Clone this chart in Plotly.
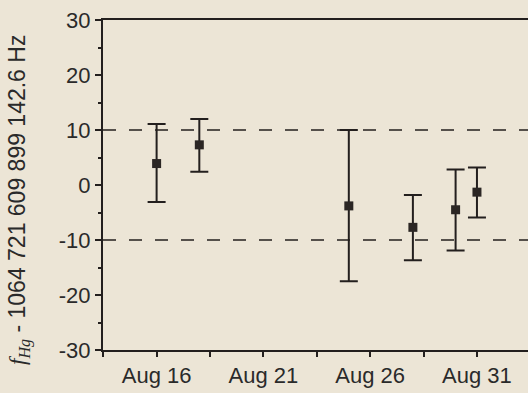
import plotly.graph_objects as go

# Data (day of August)
days = [16, 18, 25, 28, 30, 31]
values = [3.9, 7.3, -3.8, -7.7, -4.5, -1.3]
err_plus = [7.2, 4.7, 13.8, 5.9, 7.3, 4.5]
err_minus = [7.0, 4.9, 13.7, 6.0, 7.4, 4.6]

xtick_vals = [16, 21, 26, 31]
xtick_text = ["Aug 16", "Aug 21", "Aug 26", "Aug 31"]
ytick_vals = [-30, -20, -10, 0, 10, 20, 30]
ytick_text = ["-30", "-20", "-10", "0", "10", "20", "30"]
limit_lines = [10, -10]

bg = "#ece5d6"
ink = "#231f1e"
font = "Liberation Sans, Arial, sans-serif"

W, H = 528, 393
ML, MR, MT, MB = 103, 0, 20, 43

fig = go.Figure()

fig.add_trace(go.Scatter(
    x=days, y=values, mode="markers",
    marker=dict(symbol="square", size=9, color="#2b2624"),
    error_y=dict(type="data", symmetric=False, array=err_plus, arrayminus=err_minus,
                 color=ink, thickness=2, width=9),
    showlegend=False,
))

for yv in limit_lines:
    fig.add_hline(y=yv, line=dict(color=ink, width=1.5, dash="13px,13px"))

title = ('<span style="font-family:Liberation Serif"><i>f</i><sub><i>Hg</i></sub></span>'
         ' - 1064 721 609 899 142.6 Hz')

pw = W - ML - MR
ph = H - MT - MB
fig.add_annotation(
    text=title, textangle=-90, showarrow=False,
    xref="paper", yref="paper",
    x=(19 - ML) / pw, y=(H - MB - 200) / ph,
    xanchor="center", yanchor="middle",
    font=dict(family=font, size=23, color="#2a2a2a"),
)

fig.update_layout(
    width=W, height=H,
    margin=dict(l=ML, r=MR, t=MT, b=MB),
    paper_bgcolor=bg, plot_bgcolor=bg,
    font=dict(family=font, size=22, color="#2a2a2a"),
    xaxis=dict(
        range=[16 - 2.51, 16 + 17.39],
        tickvals=xtick_vals, ticktext=xtick_text,
        showgrid=False, zeroline=False,
        showline=True, linecolor=ink, linewidth=2, mirror=True,
        ticks="outside", ticklen=5, tickwidth=1.5, tickcolor=ink,
        minor=dict(tickvals=[13.5, 18.5, 23.5, 28.5, 33.5], ticks="outside",
                   ticklen=5, tickwidth=1.5, tickcolor=ink),
        tickfont=dict(size=22),
    ),
    yaxis=dict(
        range=[-30, 30],
        tickvals=ytick_vals, ticktext=ytick_text,
        showgrid=False, zeroline=False,
        showline=True, linecolor=ink, linewidth=2,
        ticks="outside", ticklen=6, tickwidth=1.5, tickcolor=ink,
        minor=dict(dtick=5, ticks="outside", ticklen=3, tickwidth=1.5, tickcolor=ink),
        tickfont=dict(size=22),
    ),
)

fig.write_html("out.html", config={"displayModeBar": False},
               post_script="document.body.style.margin='0';document.body.style.overflow='hidden';")
